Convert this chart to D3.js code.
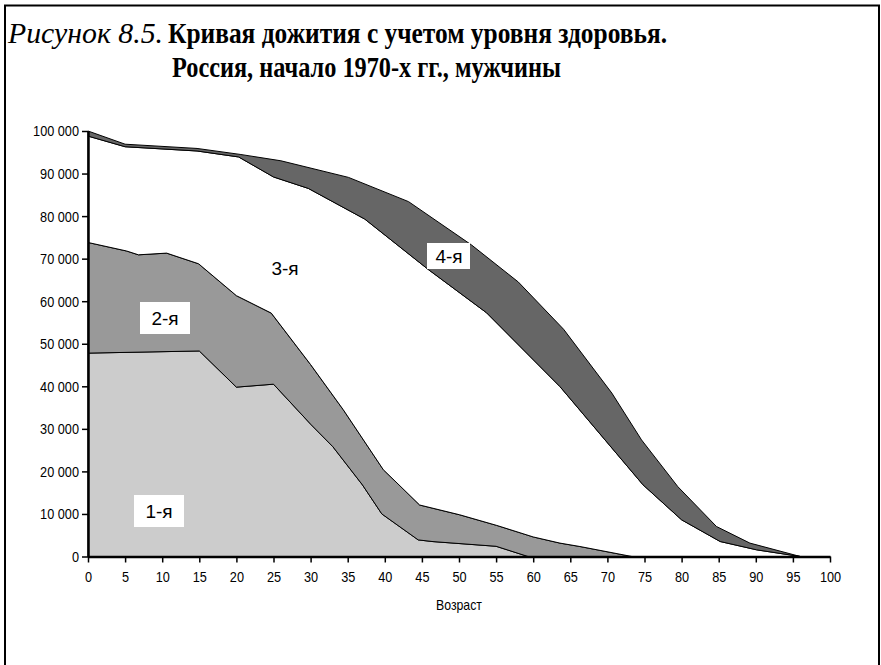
<!DOCTYPE html>
<html>
<head>
<meta charset="utf-8">
<script src="https://cdn.jsdelivr.net/npm/d3@7"></script>
<style>
  html, body { margin: 0; padding: 0; background: #fff; }
  svg { display: block; }
</style>
</head>
<body>
<svg id="chart" width="881" height="665"></svg>
<script>
// ---- Data ----
const titleItalic = "Рисунок 8.5.";
const titleLine1 = "Кривая дожития с учетом уровня здоровья.";
const titleLine2 = "Россия, начало 1970-х гг., мужчины";
const xLabel = "Возраст";

const xTicks = [0,5,10,15,20,25,30,35,40,45,50,55,60,65,70,75,80,85,90,95,100];
const yTicks = [0,10000,20000,30000,40000,50000,60000,70000,80000,90000,100000];

// Upper boundary of group 1 (1-я)
const ages1 = [0, 15, 20, 25, 30, 33, 37, 39.6, 44.5, 46.5, 55, 59.3];
const vals1 = [47800, 48300, 39800, 40500, 31100, 25800, 16800, 10000, 3900, 3500, 2400, 0];
// Upper boundary of group 2 (1-я + 2-я)
const ages2 = [0, 5.2, 6.8, 10.6, 14.9, 20, 24.7, 30, 34.4, 39.8, 44.7, 50.1, 55.1, 60, 63.6, 66.3, 73.3];
const vals2 = [73800, 71800, 70900, 71300, 68800, 61300, 57200, 45100, 34500, 20400, 12100, 9800, 7300, 4600, 3150, 2350, 0];
// Upper boundary of group 3
const ages3 = [0, 5, 14.7, 20.3, 25, 29.7, 37.3, 45.9, 53.7, 63.6, 74.8, 80, 85.2, 90.1, 96];
const vals3 = [98800, 96300, 95300, 93900, 89200, 86500, 79300, 67400, 57300, 39940, 16840, 8620, 3520, 1570, 0];
// Upper boundary of group 4 (total survivors)
const ages4 = [0, 5, 14.7, 20.5, 26, 35.1, 43.2, 51.7, 58, 64.1, 70.6, 74.6, 79.5, 84.7, 89.2, 96];
const vals4 = [100000, 96900, 95900, 94500, 93000, 89100, 83400, 73200, 64500, 53400, 38400, 27400, 16400, 7050, 3150, 0];

const groupNames = ["1-я", "2-я", "3-я", "4-я"];
const groupFills = ["#cccccc", "#999999", "#ffffff", "#666666"];

// ---- Drawing ----
const svg = d3.select("#chart");
const x = d3.scaleLinear().domain([0, 100]).range([88, 830]);
const y = d3.scaleLinear().domain([0, 100000]).range([556.5, 131]);

// frame
svg.append("rect").attr("x", 5).attr("y", 5.5).attr("width", 874).attr("height", 700)
  .attr("fill", "none").attr("stroke", "#000").attr("stroke-width", 2);

// title
const serif = "'Liberation Serif', 'Times New Roman', serif";
svg.append("text").attr("x", 8).attr("y", 43).text(titleItalic)
  .attr("font-family", serif).attr("font-style", "italic").attr("font-size", 29)
  .attr("textLength", 155).attr("lengthAdjust", "spacingAndGlyphs");
svg.append("text").attr("x", 168).attr("y", 43).text(titleLine1)
  .attr("font-family", serif).attr("font-weight", "bold").attr("font-size", 29)
  .attr("textLength", 499).attr("lengthAdjust", "spacingAndGlyphs");
svg.append("text").attr("x", 172).attr("y", 77).text(titleLine2)
  .attr("font-family", serif).attr("font-weight", "bold").attr("font-size", 29)
  .attr("textLength", 389).attr("lengthAdjust", "spacingAndGlyphs");

// areas
const pts = (ages, vals) => ages.map((a, i) => [a, vals[i]]);
const L1 = pts(ages1, vals1);
const L2 = pts(ages2, vals2);
const L3 = pts(ages3, vals3);
const L4 = pts(ages4, vals4);
const bands = [[L1, [[0,0],[59.3,0]]], [L2, L1], [L3, L2], [L4, L3]];
const line = d3.line().x(d => x(d[0])).y(d => y(d[1]));
bands.forEach((b, i) => {
  const poly = b[0].concat(b[1].slice().reverse());
  svg.append("path").attr("d", line(poly) + "Z")
    .attr("fill", groupFills[i]).attr("stroke", "#000").attr("stroke-width", 1)
    .attr("stroke-linejoin", "round");
});

// axes
const sans = "'Liberation Sans', Arial, sans-serif";
const fmt = v => d3.format(",")(v).replace(/,/g, " ");
const yAxis = svg.append("g").attr("transform", `translate(${x(0)},0)`)
  .call(d3.axisLeft(y).tickValues(yTicks).tickFormat(fmt).tickSize(6).tickSizeOuter(0).tickPadding(3));
const xAxis = svg.append("g").attr("transform", `translate(0,${y(0)})`)
  .call(d3.axisBottom(x).tickValues(xTicks).tickSize(6).tickSizeOuter(0).tickPadding(8));
[yAxis, xAxis].forEach(g => {
  g.select(".domain").attr("stroke", "#000").attr("stroke-width", 2.5);
  g.selectAll(".tick line").attr("stroke", "#000").attr("stroke-width", 1.5);
  g.selectAll(".tick text").attr("font-family", sans).attr("font-size", 15.5).attr("fill", "#000")
    .each(function() {
      const w = this.getComputedTextLength();
      d3.select(this).attr("textLength", w * 0.82).attr("lengthAdjust", "spacingAndGlyphs");
    });
});

svg.append("text").attr("x", (x(0) + x(100)) / 2).attr("y", 610).attr("text-anchor", "middle")
  .attr("font-family", sans).attr("font-size", 15).text(xLabel)
  .each(function() {
    const w = this.getComputedTextLength();
    d3.select(this).attr("textLength", w * 0.82).attr("lengthAdjust", "spacingAndGlyphs");
  });

// group labels
const labelPos = [[159, 511, true], [165, 318, true], [285, 268, false], [449, 256, true]];
labelPos.forEach((p, i) => {
  if (p[2]) {
    svg.append("rect").attr("x", p[0] - 25).attr("y", p[1] - 16).attr("width", i === 3 ? 43 : 50)
      .attr("height", i === 3 ? 26 : 32).attr("fill", "#fff")
      .attr("transform", i === 3 ? "translate(3,3)" : null);
  }
  svg.append("text").attr("x", p[0]).attr("y", p[1]).attr("dy", "0.35em")
    .attr("text-anchor", "middle").attr("font-family", sans).attr("font-size", 19)
    .text(groupNames[i]);
});
</script>
</body>
</html>
